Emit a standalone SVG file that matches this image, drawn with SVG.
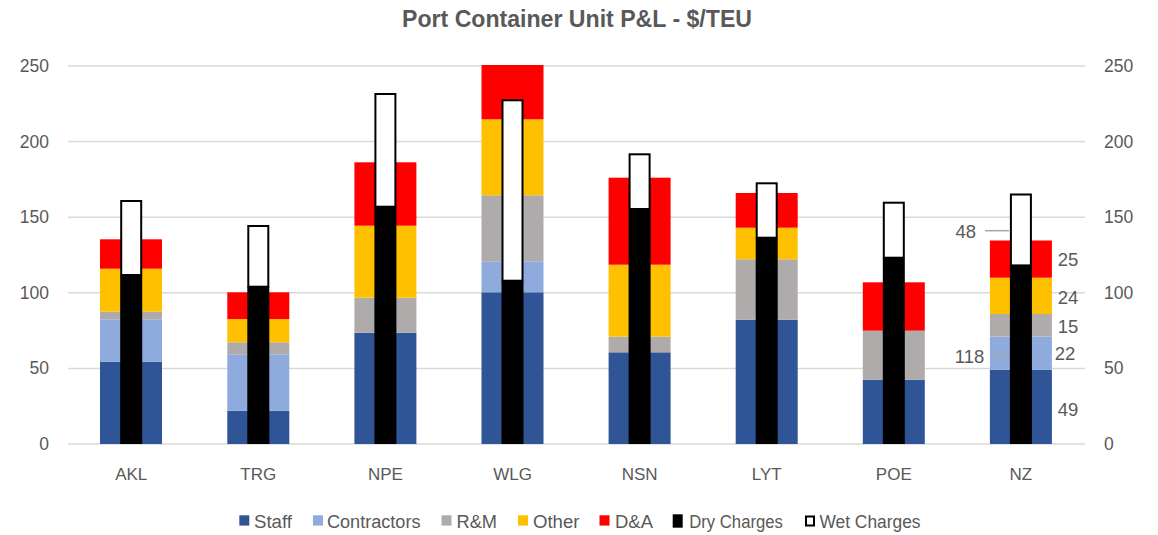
<svg xmlns="http://www.w3.org/2000/svg" width="1158" height="535" viewBox="0 0 1158 535">
<style>
text{font-family:"Liberation Sans",Arial,sans-serif;fill:#595959}
.ax{font-size:17.5px}
.axl{text-anchor:end}
.cat{font-size:17px;text-anchor:middle}
.lg{font-size:18px}
.dl{font-size:18.5px;text-anchor:middle}
.title{font-size:24px;font-weight:bold;text-anchor:middle}
.grid{stroke:#D9D9D9;stroke-width:1.5}
.staff{fill:#2F5597}.contr{fill:#8FAADC}.rm{fill:#AFABAB}.other{fill:#FFC000}.da{fill:#FF0000}
.dry{fill:#000}
.wet{fill:#fff;stroke:#000;stroke-width:2}
.lead{stroke:#A6A6A6;stroke-width:1.5;fill:none}
</style>
<rect width="1158" height="535" fill="#fff"/>
<text class="title" x="577" y="26.5" textLength="350" lengthAdjust="spacingAndGlyphs">Port Container Unit P&amp;L - $/TEU</text>
<g id="gridlines">
<line class="grid" x1="68" y1="444" x2="1085" y2="444"/>
<line class="grid" x1="68" y1="368.4" x2="1085" y2="368.4"/>
<line class="grid" x1="68" y1="292.8" x2="1085" y2="292.8"/>
<line class="grid" x1="68" y1="217.2" x2="1085" y2="217.2"/>
<line class="grid" x1="68" y1="141.6" x2="1085" y2="141.6"/>
<line class="grid" x1="68" y1="66" x2="1085" y2="66"/>
</g>
<g id="axis-left">
<text class="ax axl" x="49" y="450">0</text>
<text class="ax axl" x="49" y="374.4">50</text>
<text class="ax axl" x="49" y="298.8">100</text>
<text class="ax axl" x="49" y="223.2">150</text>
<text class="ax axl" x="49" y="147.6">200</text>
<text class="ax axl" x="49" y="72">250</text>
</g>
<g id="axis-right">
<text class="ax" x="1104" y="450">0</text>
<text class="ax" x="1104" y="374.4">50</text>
<text class="ax" x="1104" y="298.8">100</text>
<text class="ax" x="1104" y="223.2">150</text>
<text class="ax" x="1104" y="147.6">200</text>
<text class="ax" x="1104" y="72">250</text>
</g>
<g id="AKL">
<rect class="staff" x="100" y="361.7" width="62" height="82.3"/>
<rect class="contr" x="100" y="319.3" width="62" height="42.4"/>
<rect class="rm" x="100" y="311.7" width="62" height="7.6"/>
<rect class="other" x="100" y="268.7" width="62" height="43"/>
<rect class="da" x="100" y="239.3" width="62" height="29.4"/>
<rect class="dry" x="120.2" y="275" width="22" height="169"/>
<rect class="wet" x="121.2" y="201" width="20" height="74"/>
<text class="cat" x="131.2" y="480">AKL</text>
</g>
<g id="TRG">
<rect class="staff" x="227.3" y="410.7" width="62" height="33.3"/>
<rect class="contr" x="227.3" y="354.3" width="62" height="56.4"/>
<rect class="rm" x="227.3" y="342.3" width="62" height="12"/>
<rect class="other" x="227.3" y="319" width="62" height="23.3"/>
<rect class="da" x="227.3" y="292.3" width="62" height="26.7"/>
<rect class="dry" x="247.3" y="286.7" width="22" height="157.3"/>
<rect class="wet" x="248.3" y="226" width="20" height="60.7"/>
<text class="cat" x="258.3" y="480">TRG</text>
</g>
<g id="NPE">
<rect class="staff" x="354.4" y="332.7" width="62" height="111.3"/>
<rect class="rm" x="354.4" y="297.7" width="62" height="35"/>
<rect class="other" x="354.4" y="225.7" width="62" height="72"/>
<rect class="da" x="354.4" y="162.3" width="62" height="63.4"/>
<rect class="dry" x="374.4" y="206.7" width="22" height="237.3"/>
<rect class="wet" x="375.4" y="94" width="20" height="112.7"/>
<text class="cat" x="385.4" y="480">NPE</text>
</g>
<g id="WLG">
<rect class="staff" x="481.5" y="292.3" width="62" height="151.7"/>
<rect class="contr" x="481.5" y="261.3" width="62" height="31"/>
<rect class="rm" x="481.5" y="195.3" width="62" height="66"/>
<rect class="other" x="481.5" y="119.3" width="62" height="76"/>
<rect class="da" x="481.5" y="65" width="62" height="54.3"/>
<rect class="dry" x="501.5" y="280.7" width="22" height="163.3"/>
<rect class="wet" x="502.5" y="100.3" width="20" height="180.4"/>
<text class="cat" x="512.5" y="480">WLG</text>
</g>
<g id="NSN">
<rect class="staff" x="608.6" y="352.3" width="62" height="91.7"/>
<rect class="rm" x="608.6" y="336.7" width="62" height="15.6"/>
<rect class="other" x="608.6" y="264.7" width="62" height="72"/>
<rect class="da" x="608.6" y="177.7" width="62" height="87"/>
<rect class="dry" x="628.6" y="209" width="22" height="235"/>
<rect class="wet" x="629.6" y="154.3" width="20" height="54.7"/>
<text class="cat" x="639.6" y="480">NSN</text>
</g>
<g id="LYT">
<rect class="staff" x="735.7" y="319.7" width="62" height="124.3"/>
<rect class="rm" x="735.7" y="259.3" width="62" height="60.4"/>
<rect class="other" x="735.7" y="227.7" width="62" height="31.6"/>
<rect class="da" x="735.7" y="193" width="62" height="34.7"/>
<rect class="dry" x="755.7" y="237.7" width="22" height="206.3"/>
<rect class="wet" x="756.7" y="183.3" width="20" height="54.4"/>
<text class="cat" x="766.7" y="480">LYT</text>
</g>
<g id="POE">
<rect class="staff" x="862.8" y="379.7" width="62" height="64.3"/>
<rect class="rm" x="862.8" y="330.7" width="62" height="49"/>
<rect class="da" x="862.8" y="282.3" width="62" height="48.4"/>
<rect class="dry" x="882.8" y="257.7" width="22" height="186.3"/>
<rect class="wet" x="883.8" y="202.7" width="20" height="55"/>
<text class="cat" x="893.8" y="480">POE</text>
</g>
<g id="NZ">
<rect class="staff" x="989.9" y="369.9" width="62" height="74.1"/>
<rect class="contr" x="989.9" y="336.6" width="62" height="33.3"/>
<rect class="rm" x="989.9" y="314" width="62" height="22.6"/>
<rect class="other" x="989.9" y="277.7" width="62" height="36.3"/>
<rect class="da" x="989.9" y="240.5" width="62" height="37.2"/>
<rect class="dry" x="1009.9" y="265.4" width="22" height="178.6"/>
<rect class="wet" x="1010.9" y="194.5" width="20" height="70.9"/>
<text class="cat" x="1020.9" y="480">NZ</text>
</g>
<g id="connectors">
<line class="lead" x1="985" y1="230.7" x2="1009" y2="230.7"/>
<line class="lead" x1="991.7" y1="354" x2="1009" y2="356.7"/>
</g>
<g id="data-labels">
<text class="dl" x="965.8" y="238">48</text>
<text class="dl" x="969.5" y="363">118</text>
<text class="dl" x="1068" y="266">25</text>
<text class="dl" x="1068" y="304">24</text>
<text class="dl" x="1068" y="333">15</text>
<text class="dl" x="1065" y="360">22</text>
<text class="dl" x="1068" y="416">49</text>
</g>
<g id="legend">
<rect class="staff" x="239.3" y="515.3" width="10" height="10.3"/>
<text class="lg" x="254" y="527.5" textLength="38" lengthAdjust="spacingAndGlyphs">Staff</text>
<rect class="contr" x="313" y="515.3" width="10" height="10.3"/>
<text class="lg" x="327" y="527.5" textLength="93.5" lengthAdjust="spacingAndGlyphs">Contractors</text>
<rect class="rm" x="441.5" y="515.3" width="10" height="10.3"/>
<text class="lg" x="456.5" y="527.5" textLength="40.5" lengthAdjust="spacingAndGlyphs">R&amp;M</text>
<rect class="other" x="518" y="515.3" width="10" height="10.3"/>
<text class="lg" x="533" y="527.5" textLength="46.5" lengthAdjust="spacingAndGlyphs">Other</text>
<rect class="da" x="599.5" y="515.3" width="10" height="10.3"/>
<text class="lg" x="615" y="527.5" textLength="38" lengthAdjust="spacingAndGlyphs">D&amp;A</text>
<rect class="dry" x="672.7" y="514.3" width="10" height="13.4"/>
<text class="lg" x="689.3" y="527.5" textLength="93.5" lengthAdjust="spacingAndGlyphs">Dry Charges</text>
<rect class="wet" x="806" y="516.5" width="8" height="9"/>
<text class="lg" x="819.5" y="527.5" textLength="101" lengthAdjust="spacingAndGlyphs">Wet Charges</text>
</g>
</svg>
